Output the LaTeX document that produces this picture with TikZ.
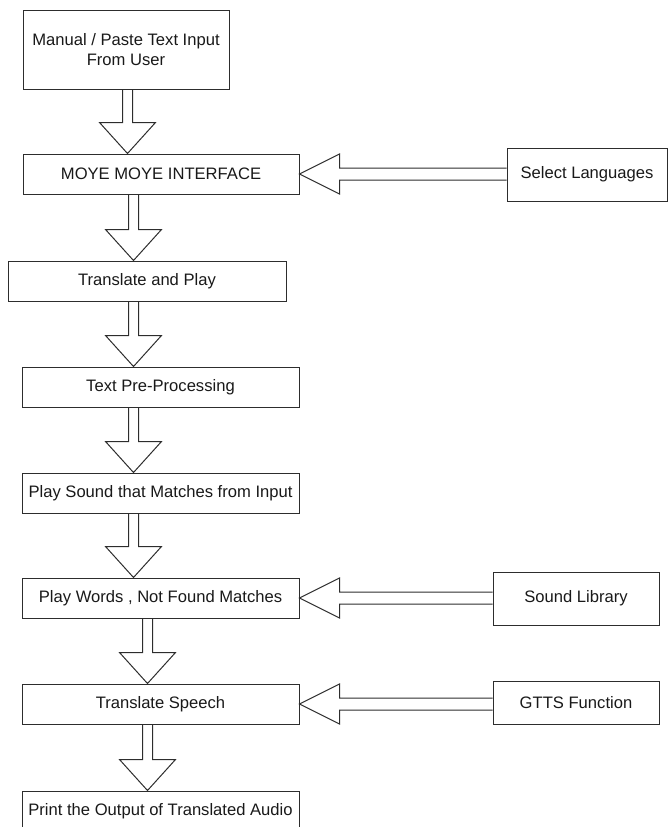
\documentclass[tikz,border=0pt]{standalone}
\usepackage{fontspec}
\setmainfont{Liberation Sans}
\usetikzlibrary{calc}
\definecolor{LineClr}{RGB}{45,45,45}
\definecolor{TextClr}{RGB}{25,25,25}

\newcommand{\DownArrow}[3]{%
  \draw[blockarrow] let \p1=(#1.south), \p2=(#2.north) in
    ({#3pt-5pt},\y1) -- ({#3pt-5pt},\y2+31pt) -- ({#3pt-28pt},\y2+31pt) -- ({#3pt},\y2)
    -- ({#3pt+28pt},\y2+31pt) -- ({#3pt+5pt},\y2+31pt) -- ({#3pt+5pt},\y1);}
\newcommand{\LeftArrow}[2]{%
  \draw[blockarrow] let \p1=(#1.west), \p2=(#2.east) in
    (\x1,\y2+6pt) -- (\x2+40pt,\y2+6pt) -- (\x2+40pt,\y2+20pt) -- (\x2,\y2)
    -- (\x2+40pt,\y2-20pt) -- (\x2+40pt,\y2-6pt) -- (\x1,\y2-6pt);}

\begin{document}
\begin{tikzpicture}[x=1pt,y=-1pt,
  box/.style={draw=LineClr,line width=1pt,rectangle,inner sep=0pt,text=TextClr,
    font=\fontsize{16.6}{19.5}\selectfont,align=center,minimum height=40pt},
  blockarrow/.style={draw=LineClr,line width=1pt,line join=miter}]
\useasboundingbox (0,0) rectangle (669,827);

\node[box,minimum width=206pt,minimum height=79pt] (input) at (126,49.5) {Manual / Paste Text Input\\From User};
\node[box,minimum width=276pt] (moye) at (161,174) {MOYE MOYE INTERFACE};
\node[box,minimum width=278pt] (transplay) at (147,281) {Translate and Play};
\node[box,minimum width=277pt] (preproc) at (160.5,387) {Text Pre-Processing};
\node[box,minimum width=277pt] (playsound) at (160.5,493) {Play Sound that Matches from Input};
\node[box,minimum width=277pt] (playwords) at (160.5,598) {Play Words , Not Found Matches};
\node[box,minimum width=277pt] (speech) at (160.5,704) {Translate Speech};
\node[box,minimum width=277pt] (output) at (160.5,811) {Print the Output of Translated Audio};

\node[box,minimum width=160pt,minimum height=53pt] (lang) at (587,174.5) {Select Languages};
\node[box,minimum width=166pt,minimum height=53pt] (soundlib) at (576,598.5) {Sound Library};
\node[box,minimum width=166pt,minimum height=43pt] (gtts) at (576,702.5) {GTTS Function};

\DownArrow{input}{moye}{127.5}
\DownArrow{moye}{transplay}{133.5}
\DownArrow{transplay}{preproc}{133.5}
\DownArrow{preproc}{playsound}{133.5}
\DownArrow{playsound}{playwords}{133.5}
\DownArrow{playwords}{speech}{147.5}
\DownArrow{speech}{output}{147.5}

\LeftArrow{lang}{moye}
\LeftArrow{soundlib}{playwords}
\LeftArrow{gtts}{speech}

\end{tikzpicture}
\end{document}
